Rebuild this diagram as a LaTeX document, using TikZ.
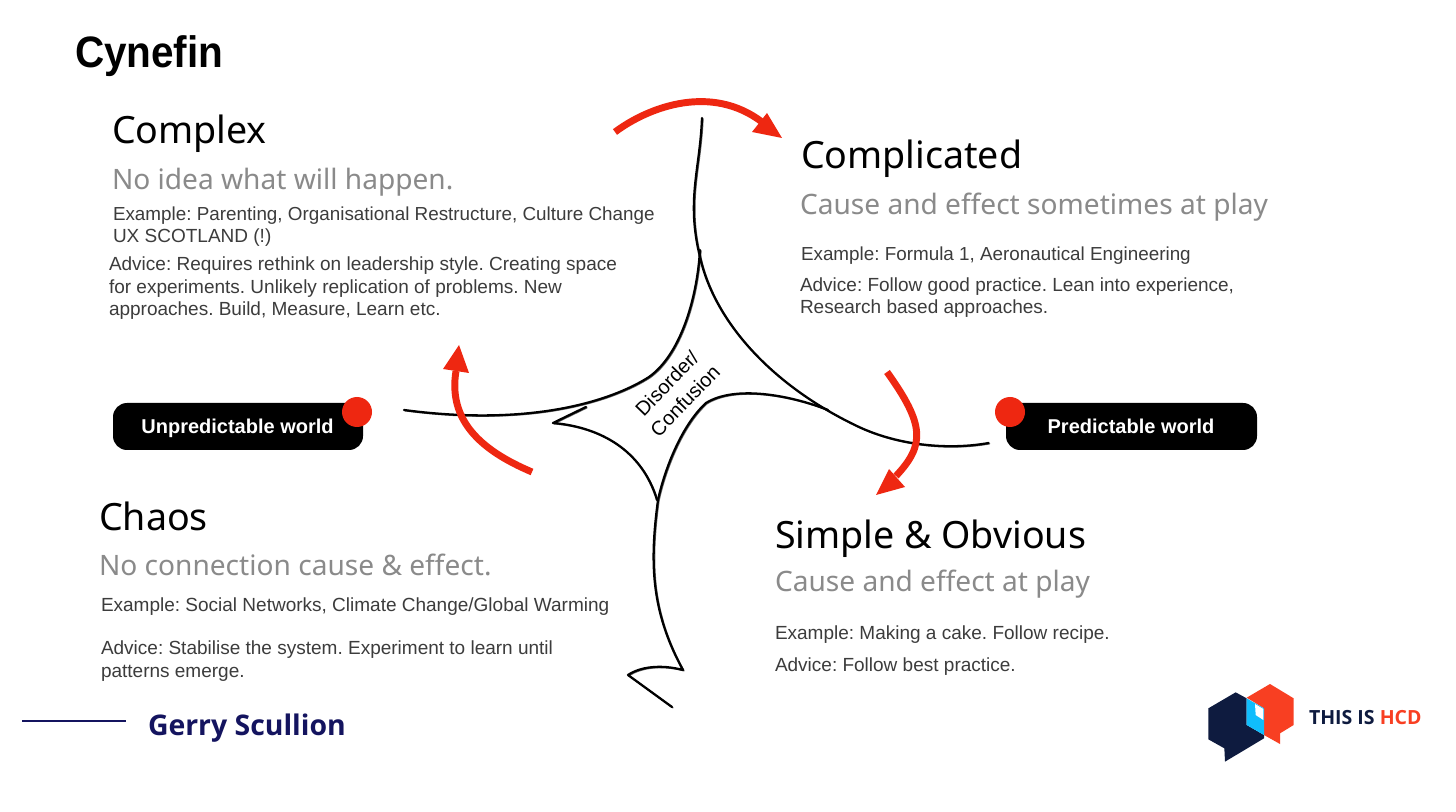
\documentclass[tikz,border=0pt]{standalone}
\usepackage{fontspec}
\setmainfont{Liberation Sans}
\newfontfamily\headfont{Noto Sans}
\newfontfamily\namefont{Open Sans}
\newfontfamily\titlefont[FakeStretch=0.92]{Liberation Sans}
\usetikzlibrary{arrows.meta}
\definecolor{redarrow}{HTML}{EE2711}
\definecolor{subgray}{HTML}{8A8A8A}
\definecolor{bodygray}{HTML}{3C3C3C}
\definecolor{navyname}{HTML}{14145F}
\definecolor{logonavy}{HTML}{0E1B3F}
\definecolor{logored}{HTML}{F83F22}
\definecolor{logocyan}{HTML}{10BDFC}
\newcommand{\pxfont}[1]{\fontsize{\dimexpr #1pt*3/4\relax}{\dimexpr #1pt*9/10\relax}\selectfont\frenchspacing}
\tikzset{
  x=0.75pt,y=-0.75pt,
  txt/.style={anchor=base west,inner sep=0pt,outer sep=0pt},
  headtxt/.style={txt,font=\headfont\pxfont{37.6},text=black},
  subtxt/.style={txt,font=\headfont\pxfont{28.1},text=subgray},
  bodytxt/.style={txt,font=\pxfont{19},text=bodygray},
  pill/.style={fill=black,rounded corners=10.5pt,draw=none},
  pilltxt/.style={anchor=base,inner sep=0pt,font=\bfseries\pxfont{20},text=white},
  sketch/.style={draw=black,line cap=round,line join=round},
  redline/.style={draw=redarrow,line width=5.2pt},
  redhead/.style={fill=redarrow,draw=none},
}
\begin{document}
\begin{tikzpicture}
\useasboundingbox (0,0) rectangle (1456,812);
\fill[white] (0,0) rectangle (1456,812);
% title
\node[txt,font=\titlefont\bfseries\pxfont{44}] (title) at (75,68) {Cynefin};
% sketch lines
\foreach \sx/\sy/\w/\op in {0/0/1.7pt/1,1/0.8/1pt/0.6}{
\begin{scope}[shift={(\sx,\sy)}]
\draw[sketch,line width=\w,opacity=\op] (702,118) .. controls (700,170) and (686,200) .. (700,257) .. controls (714,320) and (770,385) .. (859,427) .. controls (900,446) and (950,450) .. (988.6,443);
\draw[sketch,line width=\w,opacity=\op] (700,250) .. controls (697,300) and (680,355) .. (649,377) .. controls (618,397) and (540,428) .. (404,410);
\draw[sketch,line width=\w,opacity=\op] (586,407) -- (553,423) .. controls (600,427) and (642,450) .. (657,500);
\draw[sketch,line width=\w,opacity=\op] (828,410) .. controls (790,395) and (735,385) .. (706,403) .. controls (682,425) and (665,468) .. (658,500) .. controls (650,560) and (650,610) .. (683,670) .. controls (660,664) and (640,667) .. (628,675) -- (672,707);
\end{scope}
}
% red arrows
\draw[redline] (615,132) .. controls (650,106) and (712,84) .. (762,122);
\fill[redhead] (782,138) -- (767,113) -- (752,132) -- cycle;
\draw[redline] (532,472) .. controls (480,450) and (448,420) .. (456,371);
\fill[redhead] (459,345) -- (443,369) -- (469,373) -- cycle;
\draw[redline] (887,372) .. controls (925,425) and (925,445) .. (896,476);
\fill[redhead] (876,495) -- (889,469) -- (905,487) -- cycle;
% Complex
\node[headtxt] (complex) at (112,144) {Complex};
\node[subtxt] (complexsub) at (112,189.5) {No idea what will happen.};
\node[txt,font=\pxfont{18.85},text=bodygray] (complexex) at (113,221) {Example: Parenting, Organisational Restructure, Culture Change};
\node[bodytxt] (complexux) at (113,243) {UX SCOTLAND (!)};
\node[bodytxt] (complexad1) at (109,271) {Advice: Requires rethink on leadership style. Creating space};
\node[bodytxt] (complexad2) at (109,293.5) {for experiments. Unlikely replication of problems. New};
\node[bodytxt] (complexad3) at (109,316) {approaches. Build, Measure, Learn etc.};
% Complicated
\node[headtxt] (compl) at (801,169) {Complicated};
\node[subtxt] (complsub) at (800,215) {Cause and effect sometimes at play};
\node[txt,font=\pxfont{18.85},text=bodygray] (complex2) at (801,261) {Example: Formula 1, Aeronautical Engineering};
\node[bodytxt] (complad1) at (800,292) {Advice: Follow good practice. Lean into experience,};
\node[bodytxt] (complad2) at (800,314) {Research based approaches.};
% Chaos
\node[headtxt] (chaos) at (99,531) {Chaos};
\node[subtxt] (chaossub) at (99,575) {No connection cause \& effect.};
\node[bodytxt] (chaosex) at (101,611) {Example: Social Networks, Climate Change/Global Warming};
\node[bodytxt] (chaosad1) at (101,654) {Advice: Stabilise the system. Experiment to learn until};
\node[bodytxt] (chaosad2) at (101,677) {patterns emerge.};
% Simple
\node[headtxt] (simple) at (775,548) {Simple \& Obvious};
\node[subtxt] (simplesub) at (775,591) {Cause and effect at play};
\node[bodytxt] (simpleex) at (775,639) {Example: Making a cake. Follow recipe.};
\node[bodytxt] (simplead) at (775,671) {Advice: Follow best practice.};
% centre
\node[anchor=center,inner sep=0pt,align=center,rotate=46,font=\fontsize{15pt}{18.8pt}\selectfont,text=black] (disorder) at (676,392) {Disorder/\\Confusion};
% pills
\fill[pill] (113,403) rectangle (363,450);
\node[pilltxt] (unpred) at (237.5,434) {Unpredictable world};
\fill[redarrow] (357,412) circle[radius=15];
\fill[pill] (1006,403) rectangle (1257,450);
\node[pilltxt] (pred) at (1131,434) {Predictable world};
\fill[redarrow] (1010,412) circle[radius=15];
% footer
\draw[navyname,line width=0.8pt] (22,721) -- (126,721);
\node[txt,font=\namefont\bfseries\pxfont{28.4},text=navyname] (gerry) at (148,735) {Gerry Scullion};
% logo
\begin{scope}[shift={(1190,670)},x=0.25pt,y=-0.25pt]
\fill[logored] (170,83) -- (240,42) -- (311,85) -- (311,165) -- (270,190) -- (270,222) -- (222,195) -- (222,115) -- cycle;
\fill[logonavy] (55,115) -- (137,67) -- (170,85) -- (170,165) -- (222,195) -- (222,205) -- (105,275) -- (103,235) -- (55,208) -- cycle;
\fill[logocyan] (170,85) -- (222,115) -- (222,195) -- (170,165) -- cycle;
\fill[white] (195,102) -- (220,117) -- (220,150) -- (197,135) -- cycle;
\end{scope}
\node[txt,font=\namefont\bfseries\pxfont{19.5}] (logotxt) at (1309,724) {\textcolor{logonavy}{THIS IS} \textcolor{logored}{HCD}};
\end{tikzpicture}
\end{document}
